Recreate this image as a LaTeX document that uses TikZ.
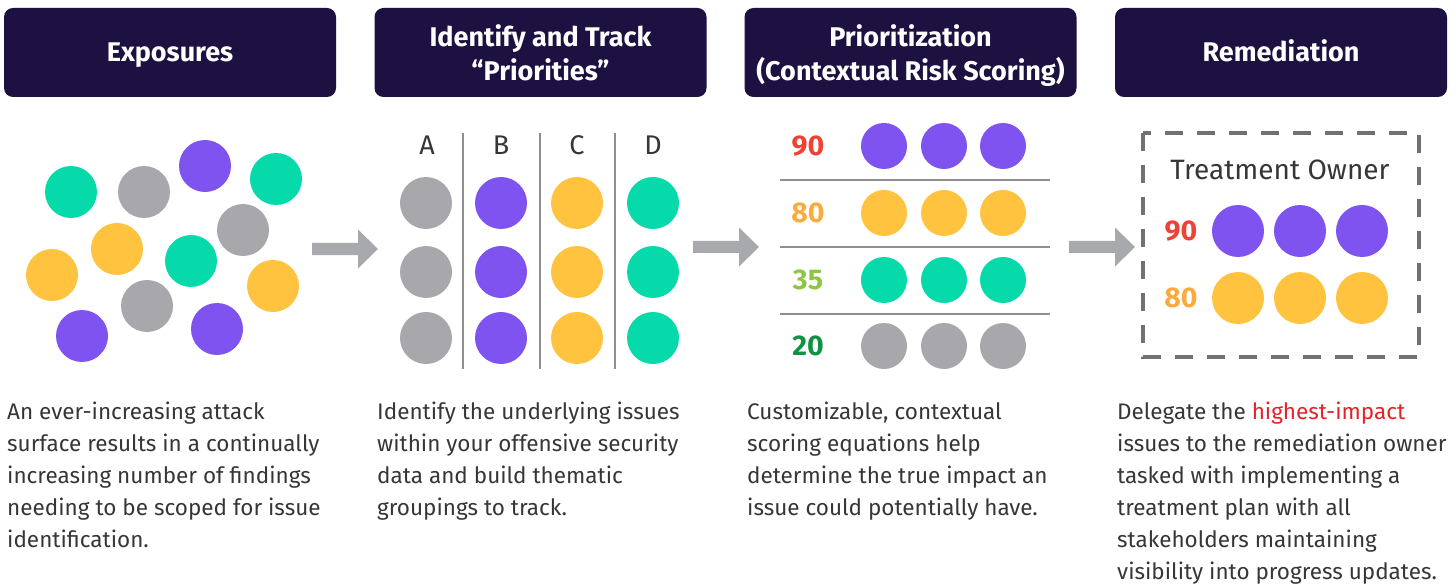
\documentclass[tikz,border=0pt]{standalone}
\usepackage{fontspec}
\setmainfont{Fira Sans}
\definecolor{navy}{HTML}{1C1140}
\definecolor{cgreen}{HTML}{06D9AA}
\definecolor{cpurple}{HTML}{7F53F0}
\definecolor{cyellow}{HTML}{FFC33F}
\definecolor{cgray}{HTML}{A8A8AC}
\definecolor{txt}{HTML}{363636}
\definecolor{linegray}{HTML}{8F8F93}
\definecolor{dashgray}{HTML}{707075}
\definecolor{arrowgray}{HTML}{A8A9AC}
\definecolor{nred}{HTML}{F04135}
\definecolor{norange}{HTML}{FBAA3D}
\definecolor{nlime}{HTML}{8DC641}
\definecolor{ndgreen}{HTML}{109245}
\definecolor{hired}{HTML}{E82127}
\newcommand{\hdrfont}{\fontsize{27}{34}\selectfont\bfseries}
\newcommand{\bodyfont}{\fontsize{22.5}{32}\selectfont}
\begin{document}
\begin{tikzpicture}[x=1pt,y=-1pt,
  hdr/.style={fill=navy, rounded corners=9pt, minimum width=332pt, minimum height=89pt, inner sep=0pt},
  hdrtext/.style={text=white, font=\hdrfont, align=center, inner sep=0pt},
  dot/.style={circle, minimum size=52pt, inner sep=0pt, draw=none},
  sdot/.style={circle, minimum size=46pt, inner sep=0pt, draw=none},
  body/.style={anchor=north west, inner sep=0pt, align=left, text=txt, font=\bodyfont},
  collabel/.style={text=txt, font=\fontsize{27}{30}\selectfont, inner sep=0pt},
  score/.style={font=\fontsize{28.5}{30}\selectfont\bfseries, inner sep=0pt},
  sep/.style={draw=linegray, line width=2pt},
  blockarrow/.pic={\fill[arrowgray] (0,-6)--(46,-6)--(46,-19.5)--(66,0)--(46,19.5)--(46,6)--(0,6)--cycle;}
]
\useasboundingbox (0,0) rectangle (1455,585);

% headers
\node[hdr] (h1) at (170,52.5) {};
\node[hdrtext, anchor=base] (h1t) at (170,62) {Exposures};
\node[hdr] (h2) at (540.5,52.5) {};
\node[hdrtext, anchor=base] (h2a) at (540.5,47) {Identify and Track};
\node[hdrtext, anchor=base] (h2b) at (540.5,81) {“Priorities”};
\node[hdr] (h3) at (910.5,52.5) {};
\node[hdrtext, anchor=base] (h3a) at (910.5,47) {Prioritization};
\node[hdrtext, anchor=base] (h3b) at (910.5,81) {(Contextual Risk Scoring)};
\node[hdr] (h4) at (1281,52.5) {};
\node[hdrtext, anchor=base] (h4t) at (1281,62) {Remediation};

% panel 1 scatter
\node[dot, fill=cgreen]  (p1a) at (71,192) {};
\node[dot, fill=cgray]   (p1b) at (144,192) {};
\node[dot, fill=cpurple] (p1c) at (205,166) {};
\node[dot, fill=cgreen]  (p1d) at (276,179) {};
\node[dot, fill=cgray]   (p1e) at (243,230) {};
\node[dot, fill=cyellow] (p1f) at (117,249) {};
\node[dot, fill=cgreen]  (p1g) at (191,261) {};
\node[dot, fill=cyellow] (p1h) at (52,275) {};
\node[dot, fill=cyellow] (p1i) at (273,286) {};
\node[dot, fill=cgray]   (p1j) at (147,306) {};
\node[dot, fill=cpurple] (p1k) at (82,336) {};
\node[dot, fill=cpurple] (p1l) at (217,329) {};

% arrows
\pic at (312,249) {blockarrow};
\pic at (693,247) {blockarrow};
\pic at (1069,247) {blockarrow};

% panel 2 columns
\node[collabel] (la) at (427,145) {A};
\node[collabel] (lb) at (501,145) {B};
\node[collabel] (lc) at (577,145) {C};
\node[collabel] (ld) at (653,145) {D};
\coordinate (v1t) at (463,133); \coordinate (v1b) at (463,369);
\coordinate (v2t) at (540,133); \coordinate (v2b) at (540,369);
\coordinate (v3t) at (615,133); \coordinate (v3b) at (615,369);
\draw[sep] (v1t) -- (v1b);
\draw[sep] (v2t) -- (v2b);
\draw[sep] (v3t) -- (v3b);
\foreach \y [count=\i] in {203,272,338}{
  \node[dot, fill=cgray]   (a\i) at (426,\y) {};
  \node[dot, fill=cpurple] (b\i) at (501,\y) {};
  \node[dot, fill=cyellow] (c\i) at (577,\y) {};
  \node[dot, fill=cgreen]  (d\i) at (653,\y) {};
}

% panel 3 scoring
\node[score, text=nred]    (s90) at (808,146) {90};
\node[score, text=norange] (s80) at (808,213) {80};
\node[score, text=nlime]   (s35) at (808,280) {35};
\node[score, text=ndgreen] (s20) at (808,346) {20};
\foreach \y/\c [count=\i] in {146/cpurple,213/cyellow,280/cgreen,346/cgray}{
  \node[sdot, fill=\c] (r\i a) at (884,\y) {};
  \node[sdot, fill=\c] (r\i b) at (944,\y) {};
  \node[sdot, fill=\c] (r\i c) at (1003,\y) {};
}
\coordinate (hl1) at (780,180); \coordinate (hr1) at (1050,180);
\coordinate (hl2) at (780,247); \coordinate (hr2) at (1050,247);
\coordinate (hl3) at (780,314); \coordinate (hr3) at (1050,314);
\draw[sep] (hl1) -- (hr1);
\draw[sep] (hl2) -- (hr2);
\draw[sep] (hl3) -- (hr3);

% panel 4 treatment owner
\draw[draw=dashgray, line width=4pt, dash pattern=on 18pt off 14pt] (1143,133) rectangle (1419,357);
\node[text=txt, font=\fontsize{28}{30}\selectfont, inner sep=0pt] (to) at (1280,170) {Treatment Owner};
\node[score, text=nred]    (t90) at (1181,231) {90};
\node[score, text=norange] (t80) at (1181,298) {80};
\foreach \y/\c [count=\i] in {231/cpurple,298/cyellow}{
  \node[dot, fill=\c] (t\i a) at (1238,\y) {};
  \node[dot, fill=\c] (t\i b) at (1300,\y) {};
  \node[dot, fill=\c] (t\i c) at (1362,\y) {};
}

% body texts
\node[body] (b1) at (7,396.6) {\strut An ever-increasing attack\\surface results in a continually\\increasing number of findings\\needing to be scoped for issue\\identification.};
\node[body] (b2) at (377,396.6) {\strut Identify the underlying issues\\within your offensive security\\data and build thematic\\groupings to track.};
\node[body] (b3) at (747,396.6) {\strut Customizable, contextual\\scoring equations help\\determine the true impact an\\issue could potentially have.};
\node[body] (b4) at (1117,396.6) {\strut Delegate the \textcolor{hired}{highest-impact}\\issues to the remediation owner\\tasked with implementing a\\treatment plan with all\\stakeholders maintaining\\visibility into progress updates.};
\end{tikzpicture}
\end{document}
